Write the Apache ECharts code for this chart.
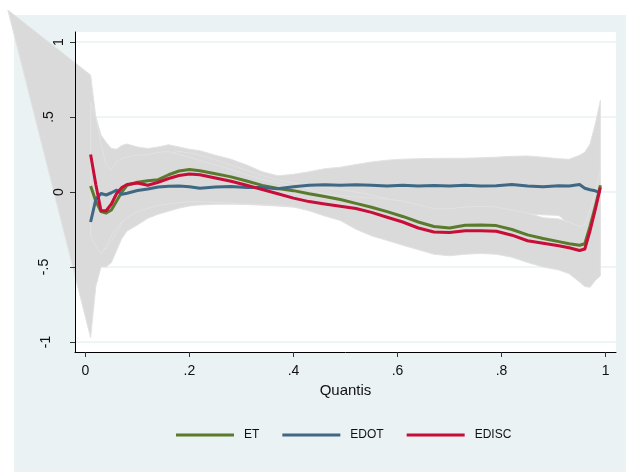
<!DOCTYPE html>
<html>
<head>
<meta charset="utf-8">
<script src="https://cdn.jsdelivr.net/npm/echarts@6/dist/echarts.min.js"></script>
<style>
  html, body { margin: 0; padding: 0; background: #ffffff; }
  #chart { width: 626px; height: 472px; }
</style>
</head>
<body>
<div id="chart"></div>
<script>
// Quantile grid shared by every curve and confidence band
const quantiles = [0.01, 0.02, 0.03, 0.04, 0.05, 0.06, 0.07, 0.08, 0.10, 0.12, 0.14, 0.16, 0.18, 0.20, 0.22,
  0.25, 0.28, 0.31, 0.34, 0.37, 0.40, 0.43, 0.46, 0.49, 0.52, 0.55, 0.58, 0.61, 0.64, 0.67, 0.70, 0.73, 0.76,
  0.79, 0.82, 0.85, 0.88, 0.91, 0.93, 0.95, 0.96, 0.97, 0.98, 0.99];

// Point estimates
const et = [0.04, -0.06, -0.13, -0.14, -0.12, -0.06, 0.00, 0.045, 0.065, 0.075, 0.082, 0.115, 0.14, 0.15, 0.142,
  0.122, 0.101, 0.073, 0.044, 0.024, 0.009, -0.012, -0.03, -0.05, -0.076, -0.102, -0.131, -0.163, -0.20, -0.23,
  -0.24, -0.222, -0.22, -0.224, -0.25, -0.286, -0.31, -0.331, -0.345, -0.355, -0.345, -0.23, -0.10, 0.045];
const edot = [-0.20, -0.05, -0.01, -0.02, -0.005, 0.012, -0.015, -0.008, 0.01, 0.02, 0.033, 0.038, 0.04, 0.035, 0.025,
  0.033, 0.036, 0.03, 0.03, 0.022, 0.035, 0.045, 0.048, 0.045, 0.048, 0.045, 0.040, 0.045, 0.04, 0.043,
  0.04, 0.045, 0.04, 0.042, 0.05, 0.04, 0.035, 0.042, 0.04, 0.05, 0.025, 0.015, 0.008, -0.005];
const edisc = [0.25, 0.05, -0.125, -0.125, -0.08, -0.01, 0.03, 0.05, 0.06, 0.045, 0.065, 0.09, 0.11, 0.12, 0.115,
  0.093, 0.072, 0.045, 0.017, -0.012, -0.041, -0.064, -0.08, -0.095, -0.11, -0.136, -0.168, -0.20, -0.24, -0.267,
  -0.27, -0.258, -0.258, -0.262, -0.288, -0.325, -0.342, -0.359, -0.372, -0.39, -0.38, -0.26, -0.12, 0.03];

// Confidence bands (upper / lower bounds on the same quantile grid)
const edotUpper = [0.78, 0.50, 0.38, 0.33, 0.29, 0.285, 0.31, 0.32, 0.30, 0.29, 0.30, 0.315, 0.30, 0.285, 0.275,
  0.245, 0.218, 0.18, 0.135, 0.108, 0.118, 0.135, 0.155, 0.165, 0.183, 0.20, 0.212, 0.219, 0.222, 0.224,
  0.225, 0.225, 0.228, 0.232, 0.238, 0.24, 0.232, 0.222, 0.218, 0.245, 0.265, 0.32, 0.45, 0.61];
const edotLower = [-0.97, -0.63, -0.50, -0.50, -0.47, -0.39, -0.31, -0.26, -0.22, -0.175, -0.148, -0.128, -0.108, -0.093, -0.086,
  -0.082, -0.081, -0.083, -0.088, -0.094, -0.10, -0.11, -0.115, -0.12, -0.125, -0.13, -0.135, -0.135, -0.14, -0.14,
  -0.14, -0.135, -0.13, -0.13, -0.135, -0.145, -0.152, -0.156, -0.215, -0.24, -0.26, -0.30, -0.38, -0.45];
// stray leading vertex of the EDOT band polygon
const edotBandLead = [-0.149, 1.213];

const etUpper = [0.45, 0.35, 0.20, 0.12, 0.12, 0.16, 0.20, 0.22, 0.23, 0.235, 0.24, 0.26, 0.27, 0.26, 0.245,
  0.215, 0.18, 0.145, 0.11, 0.08, 0.06, 0.045, 0.03, 0.015, 0.0, -0.02, -0.045, -0.07, -0.10, -0.12,
  -0.125, -0.11, -0.105, -0.11, -0.13, -0.16, -0.18, -0.185, -0.21, -0.23, -0.225, -0.13, -0.02, 0.12];
const etLower = [-0.25, -0.33, -0.38, -0.38, -0.33, -0.27, -0.21, -0.16, -0.12, -0.095, -0.08, -0.06, -0.04, -0.035, -0.035,
  -0.04, -0.05, -0.06, -0.07, -0.075, -0.085, -0.10, -0.12, -0.14, -0.165, -0.20, -0.24, -0.28, -0.32, -0.35,
  -0.36, -0.35, -0.345, -0.35, -0.37, -0.41, -0.43, -0.45, -0.47, -0.49, -0.48, -0.46, -0.45, -0.43];

const ediscUpper = [0.60, 0.50, 0.32, 0.18, 0.15, 0.20, 0.225, 0.235, 0.245, 0.25, 0.265, 0.27, 0.25, 0.232, 0.21,
  0.18, 0.15, 0.115, 0.085, 0.06, 0.04, 0.02, -0.015, -0.025, -0.033, -0.04, -0.048, -0.06, -0.085, -0.112,
  -0.112, -0.10, -0.095, -0.10, -0.12, -0.14, -0.172, -0.18, -0.20, -0.23, -0.22, -0.12, 0.0, 0.15];
const ediscLower = [-0.30, -0.36, -0.41, -0.36, -0.29, -0.24, -0.20, -0.17, -0.13, -0.11, -0.09, -0.08, -0.07, -0.065, -0.065,
  -0.07, -0.075, -0.08, -0.085, -0.09, -0.10, -0.125, -0.16, -0.19, -0.248, -0.292, -0.323, -0.355, -0.385, -0.415,
  -0.425, -0.415, -0.41, -0.415, -0.435, -0.47, -0.50, -0.52, -0.545, -0.60, -0.63, -0.635, -0.59, -0.56];

// Axis ticks
const xTicks = [0, 0.2, 0.4, 0.6, 0.8, 1];
const yTicks = [-1, -0.5, 0, 0.5, 1];

const seriesNames = ['ET', 'EDOT', 'EDISC'];
const seriesColors = ['#5a7b2e', '#3f6885', '#c80d38'];

const FONT = 'Liberation Sans, Arial, sans-serif';
const Y_MIN = -1.0667, Y_MAX = 1.0667;

function fmt(v) {
  return String(v).replace('0.', '.');
}

// vertical y labels: longer strings sit further from the axis
const yLabelStyle = { '.5': 'w1', '-.5': 'w3', '-1': 'w2' };
function fmtY(v) {
  const s = fmt(v);
  return '{' + (yLabelStyle[s] || 'w0') + '|' + s + '}';
}

function bandSeries(upper, lower, lead) {
  return {
    type: 'custom',
    silent: true,
    clip: false,
    z: 1,
    xAxisIndex: 0,
    yAxisIndex: 0,
    data: [[0.5, 0]],
    encode: { x: 0, y: 1 },
    renderItem: function (params, api) {
      const pts = [];
      if (lead) pts.push(api.coord(lead));
      for (let i = 0; i < quantiles.length; i++) pts.push(api.coord([quantiles[i], upper[i]]));
      for (let i = quantiles.length - 1; i >= 0; i--) pts.push(api.coord([quantiles[i], lower[i]]));
      return {
        type: 'polygon',
        shape: { points: pts },
        style: { fill: '#dadada', stroke: '#e2e2e2', lineWidth: 1 }
      };
    }
  };
}

function lineSeries(name, values, color) {
  return {
    type: 'line',
    name: name,
    xAxisIndex: 0,
    yAxisIndex: 0,
    data: quantiles.map((q, i) => [q, values[i]]),
    showSymbol: false,
    symbol: 'none',
    color: color,
    lineStyle: { width: 3, color: color, join: 'round' },
    z: 3,
    animation: false
  };
}

const chart = echarts.init(document.getElementById('chart'), null, { renderer: 'canvas' });

const labelText = { fontSize: 14, color: '#111', fontFamily: FONT };

chart.setOption({
  animation: false,
  backgroundColor: '#ffffff',
  textStyle: { fontFamily: FONT },
  graphic: {
    elements: [{
      type: 'rect',
      left: 14, top: 15,
      shape: { width: 612, height: 457 },
      style: { fill: '#eaf2f3' },
      silent: true,
      z: -10
    }]
  },
  grid: {
    left: 75, right: 10, top: 32, bottom: 120,
    show: true, backgroundColor: '#ffffff', borderWidth: 0,
    outerBoundsMode: 'none'
  },
  legend: {
    data: seriesNames,
    left: 176, top: 429,
    padding: 0,
    icon: 'rect',
    itemWidth: 58, itemHeight: 3, itemGap: 23,
    textStyle: { fontSize: 12, color: '#111', fontFamily: FONT, padding: [0, 0, 0, 5] }
  },
  xAxis: {
    type: 'value',
    min: -0.02, max: 1.02,
    name: 'Quantis',
    nameLocation: 'middle',
    nameGap: 23,
    nameTextStyle: { fontSize: 15, color: '#111', fontFamily: FONT },
    axisLine: { show: true, onZero: false, lineStyle: { color: '#000', width: 1 } },
    axisTick: { show: true, length: 5, customValues: xTicks, lineStyle: { color: '#333' } },
    axisLabel: Object.assign({ customValues: xTicks, formatter: fmt, margin: 12 }, labelText),
    splitLine: { show: false }
  },
  yAxis: [{
    type: 'value',
    min: Y_MIN, max: Y_MAX,
    position: 'left',
    z: 0,
    axisLine: { show: false, onZero: false },
    axisTick: { show: false, customValues: yTicks },
    axisLabel: { show: false, customValues: yTicks },
    splitLine: { show: true, lineStyle: { color: '#eaf2f3', width: 1.5 } }
  }, {
    type: 'value',
    min: Y_MIN, max: Y_MAX,
    position: 'left',
    z: 10,
    axisLine: { show: true, onZero: false, lineStyle: { color: '#000', width: 1 } },
    axisTick: { show: true, length: 5, customValues: yTicks, lineStyle: { color: '#333' } },
    axisLabel: Object.assign({
      customValues: yTicks, rotate: 90, margin: 9,
      formatter: fmtY,
      rich: {
        w0: Object.assign({ padding: [0, 0, 0, 0] }, labelText),
        w1: Object.assign({ padding: [0, 0, 10, 0] }, labelText),
        w2: Object.assign({ padding: [0, 0, 13, 0] }, labelText),
        w3: Object.assign({ padding: [0, 0, 15, 0] }, labelText)
      }
    }, labelText),
    splitLine: { show: false }
  }],
  series: [
    bandSeries(edotUpper, edotLower, edotBandLead),
    bandSeries(etUpper, etLower),
    bandSeries(ediscUpper, ediscLower),
    lineSeries('ET', et, seriesColors[0]),
    lineSeries('EDOT', edot, seriesColors[1]),
    lineSeries('EDISC', edisc, seriesColors[2])
  ]
});
</script>
</body>
</html>
